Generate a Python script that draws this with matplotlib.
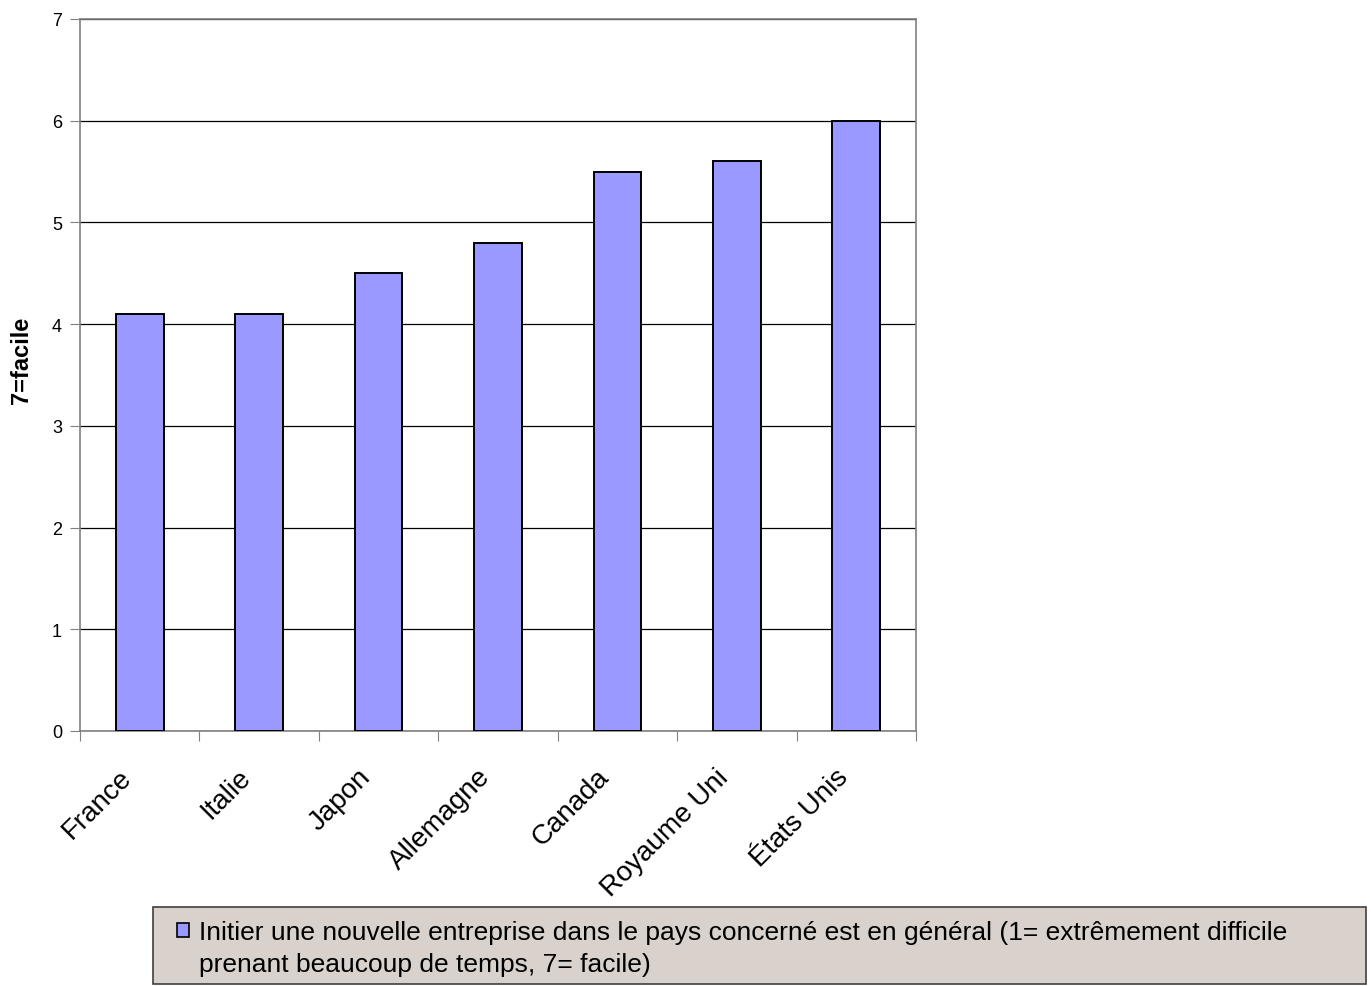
import matplotlib
matplotlib.use('Agg')
import matplotlib.pyplot as plt
from matplotlib.patches import Rectangle
from matplotlib.transforms import ScaledTranslation
import numpy as np

plt.rcParams['font.family'] = ['Liberation Sans', 'DejaVu Sans']

countries = ['France', 'Italie', 'Japon', 'Allemagne', 'Canada', 'Royaume Uni', 'États Unis']
scores = [4.1, 4.1, 4.5, 4.8, 5.5, 5.6, 6.0]
y_ticks = [0, 1, 2, 3, 4, 5, 6, 7]
legend_label = ("Initier une nouvelle entreprise dans le pays concerné est en général "
                "(1= extrêmement difficile\nprenant beaucoup de temps, 7= facile)")

bar_color = '#9999FF'
W, H = 1371, 987

fig = plt.figure(figsize=(W / 100, H / 100), dpi=100)
ax = fig.add_axes([80 / W, 1 - 732 / H, 836 / W, 712 / H])

x = np.arange(len(countries))
ax.bar(x, scores, width=0.4, color=bar_color, edgecolor='black', linewidth=1.4, zorder=3)

ax.set_xlim(-0.5, len(countries) - 0.5)
ax.set_ylim(0, 7)
ax.set_yticks(y_ticks)
ax.set_yticklabels([str(t) for t in y_ticks], fontsize=13)
ax.yaxis.grid(True, color='black', linewidth=0.9, zorder=1)
ax.set_axisbelow(True)

# category boundaries as ticks (Excel style), names at the centres
ax.set_xticks(np.arange(-0.5, len(countries), 1.0))
ax.set_xticklabels([])
ax.set_xticks(x, minor=True)
ax.set_xticklabels(countries, minor=True, rotation=45, ha='right', va='center',
                   rotation_mode='anchor', fontsize=20)
ax.tick_params(axis='x', which='minor', length=0, pad=30)
ax.tick_params(axis='x', which='major', length=7, color='#808080', direction='out')
ax.tick_params(axis='y', length=7, color='#808080', direction='out', pad=6)
shift = ScaledTranslation(-12 / 100, 0, fig.dpi_scale_trans)
for lab in ax.get_xticklabels(minor=True):
    lab.set_transform(lab.get_transform() + shift)

for side in ['top', 'right', 'left', 'bottom']:
    ax.spines[side].set_color('#808080')
    ax.spines[side].set_linewidth(1.2)

ax.set_ylabel('7=facile', fontsize=17, fontweight='bold')
ax.yaxis.set_label_coords(-47 / 836, (732 - 360) / 712)

# legend box below the chart
fig.patches.append(Rectangle((153 / W, 1 - 985 / H), 1213 / W, 77 / H,
                             transform=fig.transFigure, facecolor='#D9D2CC',
                             edgecolor='#404040', linewidth=1.2))
fig.patches.append(Rectangle((177 / W, 1 - 938 / H), 12 / W, 14 / H,
                             transform=fig.transFigure, facecolor=bar_color,
                             edgecolor='black', linewidth=1.2))
fig.text(199 / W, 1 - 949 / H, legend_label, fontsize=19,
         va='center', ha='left', linespacing=1.45)

fig.savefig('out.png', dpi=100, facecolor='white')
